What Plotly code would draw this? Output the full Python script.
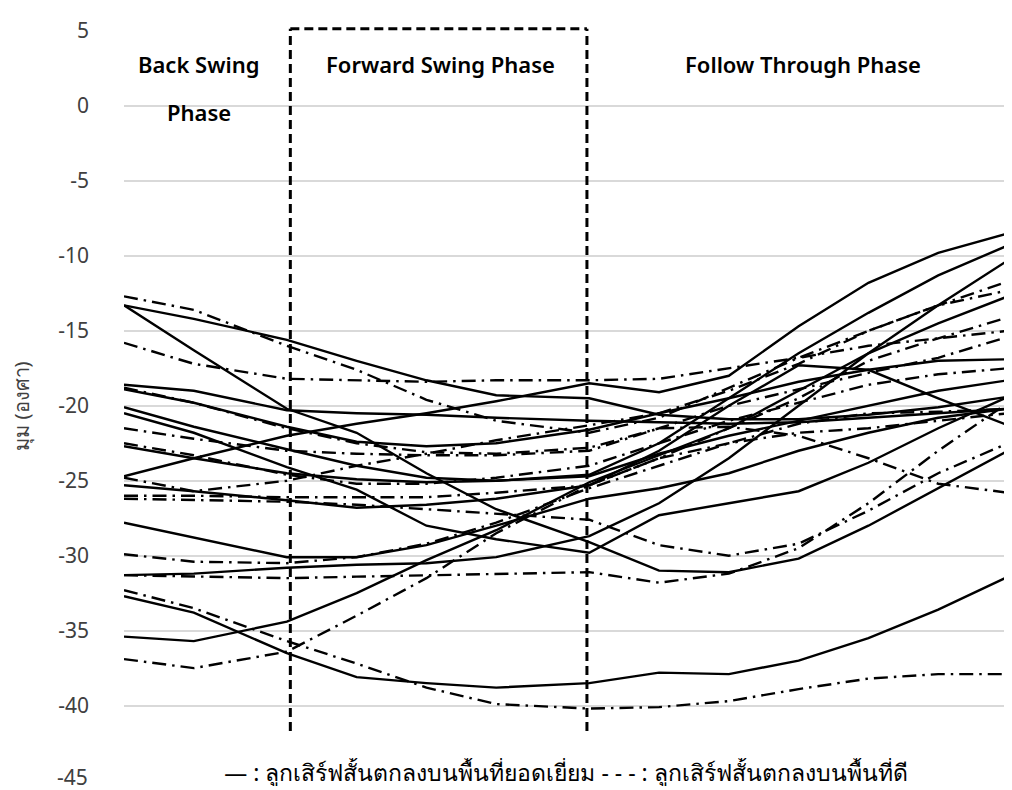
import plotly.graph_objects as go

# x positions (sample index along the swing, 0..38)
x_idx = [0, 3, 7, 10, 13, 16, 20, 23, 26, 29, 32, 35, 38]

# Excellent-area short serves (solid lines)
excellent_1 = [-13.3, -14.2, -15.6, -17.0, -18.3, -19.3, -19.5, -20.6, -20.9, -20.9, -20.6, -20.1, -19.4]
excellent_2 = [-13.3, -16.3, -20.2, -21.8, -24.5, -26.9, -29.1, -31.0, -31.1, -30.2, -28.0, -25.5, -23.0]
excellent_3 = [-18.6, -19.0, -20.3, -20.5, -20.6, -20.8, -21.0, -21.1, -21.2, -21.1, -20.8, -20.5, -20.2]
excellent_4 = [-18.9, -19.8, -21.4, -22.4, -22.7, -22.5, -21.6, -20.5, -19.5, -18.4, -17.6, -17.0, -16.9]
excellent_5 = [-20.1, -21.4, -22.9, -24.0, -24.8, -25.0, -24.6, -22.5, -19.5, -16.5, -13.8, -11.3, -9.3]
excellent_6 = [-20.5, -21.8, -24.1, -25.6, -28.0, -28.9, -29.8, -27.3, -26.5, -25.7, -23.8, -21.5, -19.4]
excellent_7 = [-22.7, -23.5, -24.5, -24.9, -25.1, -25.0, -24.7, -23.2, -22.0, -21.0, -20.0, -19.0, -18.3]
excellent_8 = [-24.7, -23.5, -22.0, -21.2, -20.5, -19.7, -18.5, -19.1, -18.0, -14.7, -11.8, -9.8, -8.5]
excellent_9 = [-25.3, -25.7, -26.3, -26.8, -26.6, -26.2, -25.3, -23.0, -20.0, -17.3, -17.6, -19.5, -21.3]
excellent_10 = [-27.8, -28.8, -30.1, -30.1, -29.3, -28.0, -26.2, -25.5, -24.5, -23.0, -21.8, -20.8, -20.2]
excellent_11 = [-31.3, -31.2, -30.8, -30.6, -30.5, -30.1, -28.7, -26.5, -23.5, -20.0, -16.5, -13.3, -10.3]
excellent_12 = [-32.7, -33.8, -36.5, -38.1, -38.5, -38.8, -38.5, -37.8, -37.9, -37.0, -35.5, -33.6, -31.4]
excellent_13 = [-35.4, -35.7, -34.4, -32.5, -30.3, -28.3, -25.1, -23.3, -21.5, -19.0, -16.5, -14.5, -12.7]

# Good-area short serves (dash-dot lines)
good_1 = [-12.7, -13.6, -16.0, -17.6, -19.6, -21.0, -21.8, -20.8, -18.8, -16.8, -15.0, -13.3, -11.7]
good_2 = [-15.8, -17.2, -18.2, -18.3, -18.4, -18.3, -18.3, -18.2, -17.5, -16.8, -16.0, -15.5, -15.0]
good_3 = [-21.5, -22.2, -23.0, -23.2, -23.3, -23.3, -23.0, -21.5, -21.4, -22.0, -23.5, -25.2, -25.8]
good_4 = [-22.5, -23.3, -24.6, -25.2, -25.2, -24.8, -24.0, -22.5, -21.0, -19.8, -18.6, -17.9, -17.5]
good_5 = [-24.8, -25.7, -25.0, -24.0, -23.2, -22.3, -21.3, -20.5, -19.0, -17.2, -15.0, -13.3, -12.3]
good_6 = [-26.0, -26.0, -26.1, -26.1, -26.1, -25.8, -25.3, -23.5, -22.5, -21.8, -21.5, -21.0, -20.5]
good_7 = [-26.2, -26.3, -26.4, -26.6, -26.9, -27.2, -27.6, -29.3, -30.0, -29.2, -27.0, -24.5, -22.5]
good_8 = [-29.9, -30.4, -30.5, -30.1, -29.2, -27.8, -25.5, -24.0, -22.5, -21.2, -20.5, -20.4, -20.2]
good_9 = [-31.3, -31.4, -31.5, -31.4, -31.3, -31.2, -31.1, -31.8, -31.2, -29.5, -26.5, -23.0, -19.8]
good_10 = [-32.3, -33.5, -35.7, -37.2, -38.8, -39.9, -40.2, -40.1, -39.7, -38.9, -38.2, -37.9, -37.9]
good_11 = [-36.9, -37.5, -36.4, -34.0, -31.5, -28.5, -25.3, -23.5, -21.5, -19.5, -17.0, -15.5, -14.1]
good_12 = [-18.8, -19.8, -21.5, -22.5, -23.1, -23.2, -22.8, -21.5, -20.0, -18.9, -17.8, -16.8, -15.4]

excellent_series = [excellent_1, excellent_2, excellent_3, excellent_4, excellent_5, excellent_6,
                    excellent_7, excellent_8, excellent_9, excellent_10, excellent_11, excellent_12,
                    excellent_13]
good_series = [good_1, good_2, good_3, good_4, good_5, good_6, good_7, good_8, good_9, good_10,
               good_11, good_12]

y_ticks = [5, 0, -5, -10, -15, -20, -25, -30, -35, -40, -45]
y_tick_labels = ["5", "0", "-5", "-10", "-15", "-20", "-25", "-30", "-35", "-40", "-45"]
phase_bounds = [7.15, 19.9]
phase_labels = ["Back Swing", "Phase", "Forward Swing Phase", "Follow Through Phase"]
y_title = "มุม (องศา)"
legend_text = "— : ลูกเสิร์ฟสั้นตกลงบนพื้นที่ยอดเยี่ยม - - - : ลูกเสิร์ฟสั้นตกลงบนพื้นที่ดี"

tick_font = dict(family="Noto Sans, DejaVu Sans, sans-serif", size=21, color="#404040")

fig = go.Figure()
for s in excellent_series:
    fig.add_trace(go.Scatter(x=x_idx, y=s, mode="lines", line=dict(color="black", width=2.4),
                             showlegend=False, hoverinfo="skip"))
for s in good_series:
    fig.add_trace(go.Scatter(x=x_idx, y=s, mode="lines",
                             line=dict(color="black", width=2.4, dash="14px,6px,2.5px,6px"),
                             showlegend=False, hoverinfo="skip"))

Y_MIN, Y_MAX = -45.03, 5.0

def ypaper(v):
    return (v - Y_MIN) / (Y_MAX - Y_MIN)

box_line = dict(color="black", width=3, dash="9px,5px")
fig.add_shape(type="line", xref="x", yref="paper", x0=phase_bounds[0], x1=phase_bounds[0],
              y0=ypaper(-41.7), y1=1.003, line=box_line)
fig.add_shape(type="line", xref="x", yref="paper", x0=phase_bounds[1], x1=phase_bounds[1],
              y0=ypaper(-41.7), y1=1.003, line=box_line)
fig.add_shape(type="line", xref="x", yref="paper", x0=phase_bounds[0], x1=phase_bounds[1],
              y0=1.003, y1=1.003, line=box_line)

phase_font = dict(family="Noto Sans, DejaVu Sans, sans-serif", size=22, color="black", weight=600)
fig.add_annotation(x=3.22, y=2.8, xref="x", yref="y", text=phase_labels[0], showarrow=False,
                   font=phase_font)
fig.add_annotation(x=3.22, y=-0.4, xref="x", yref="y", text=phase_labels[1], showarrow=False,
                   font=phase_font)
fig.add_annotation(x=13.6, y=2.8, xref="x", yref="y", text=phase_labels[2],
                   showarrow=False, font=phase_font)
fig.add_annotation(x=29.2, y=2.8, xref="x", yref="y", text=phase_labels[3],
                   showarrow=False, font=phase_font)

fig.add_annotation(x=0.5, y=-44.45, xref="paper", yref="y", text=legend_text, showarrow=False,
                   font=dict(family="Noto Sans, DejaVu Sans, sans-serif", size=23, color="black"),
                   bgcolor="white", width=866, height=28)

# lowest tick label drawn slightly above its gridline so it stays inside the page
fig.add_annotation(x=-0.0385, y=-44.75, xref="paper", yref="y", text=y_tick_labels[-1],
                   showarrow=False, xanchor="right", font=tick_font)

# page body has an 8px margin; the figure is sized so the plot sits where the reference's does
fig.update_layout(
    width=1004, height=782,
    margin=dict(l=116, r=4, t=23, b=9, autoexpand=False),
    paper_bgcolor="white", plot_bgcolor="white",
    showlegend=False,
    xaxis=dict(range=[0, 38], showgrid=False, zeroline=False, showticklabels=False,
               showline=False, ticks=""),
    yaxis=dict(range=[Y_MIN, Y_MAX], tickvals=y_ticks, ticktext=y_tick_labels[:-1] + [""],
               showgrid=True,
               gridcolor="#d9d9d9", gridwidth=1.5, zeroline=False, showline=False, ticks="",
               ticklabelstandoff=34,
               tickfont=tick_font,
               title=dict(text=y_title, standoff=30,
                          font=dict(family="Noto Sans, DejaVu Sans, sans-serif", size=20,
                                    color="#404040"))),
)

fig.write_html("out.html")
